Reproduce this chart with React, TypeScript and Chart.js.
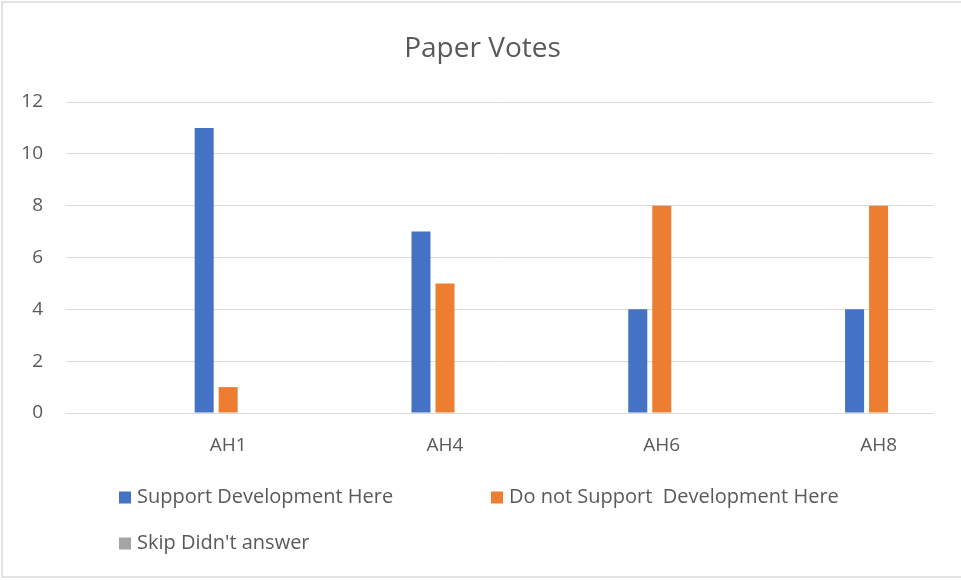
import { useEffect, useRef } from 'react';
import { Chart, registerables } from 'chart.js';

Chart.register(...registerables);

const categories = ['AH1', 'AH4', 'AH6', 'AH8'];
const supportValues = [11, 7, 4, 4];
const notSupportValues = [1, 5, 8, 8];
const skipValues = [0, 0, 0, 0];
const seriesLabels = ['Support Development Here', 'Do not Support  Development Here', "Skip Didn't answer"];
const seriesColors = ['#4472C4', '#ED7D31', '#A5A5A5'];
const yMin = 0;
const yMax = 12;
const yStep = 2;

const TEXT = '#595959';
const GRID = '#D9D9D9';
const FONT = '"Open Sans", "Noto Sans", sans-serif';

const framePlugin = {
  id: 'frame',
  beforeDraw(chart: any) {
    const ctx = chart.ctx;
    ctx.save();
    ctx.fillStyle = '#FFFFFF';
    ctx.fillRect(0, 0, chart.width, chart.height);
    ctx.strokeStyle = GRID;
    ctx.lineWidth = 1.5;
    ctx.strokeRect(2, 2, chart.width + 20, 575);
    ctx.restore();
  },
};

const legendSlots = [
  { x: 119, y: 497.5 },
  { x: 491, y: 497.5 },
  { x: 119, y: 543.5 },
];

const legendPlugin = {
  id: 'excelLegend',
  afterDraw(chart: any) {
    const ctx = chart.ctx;
    ctx.save();
    ctx.font = `20px ${FONT}`;
    ctx.textBaseline = 'middle';
    ctx.textAlign = 'left';
    chart.data.datasets.forEach((ds: any, i: number) => {
      const slot = legendSlots[i];
      if (!slot) return;
      ctx.fillStyle = ds.backgroundColor;
      ctx.fillRect(slot.x, slot.y - 6, 12, 12);
      ctx.fillStyle = TEXT;
      ctx.fillText(ds.label, slot.x + 18, slot.y);
    });
    ctx.restore();
  },
};

export default function App() {
  const canvasRef = useRef<HTMLCanvasElement | null>(null);

  useEffect(() => {
    document.body.style.margin = '0';
    const canvas = canvasRef.current;
    if (!canvas) return;
    const toPoints = (vals: number[]) => vals.map((v, i) => ({ x: i, y: v }));
    const seriesValues = [supportValues, notSupportValues, skipValues];
    const chart = new Chart(canvas, {
      type: 'bar',
      data: {
        datasets: seriesValues.map((vals, i) => ({
          label: seriesLabels[i],
          data: toPoints(vals),
          backgroundColor: seriesColors[i],
          borderWidth: 0,
          categoryPercentage: 0.332,
          barPercentage: 0.792,
        })),
      },
      options: {
        animation: false,
        responsive: false,
        devicePixelRatio: 1,
        layout: { padding: { left: 4, right: 0, top: 0, bottom: 117 } },
        plugins: {
          legend: { display: false },
          tooltip: { enabled: false },
          title: {
            display: true,
            text: 'Paper Votes',
            color: TEXT,
            font: { family: FONT, size: 28, weight: 'normal' },
            padding: { top: 32.2, bottom: 36.2 },
          },
        },
        scales: {
          x: {
            type: 'linear',
            offset: false,
            min: -0.748,
            max: 3.251,
            grid: { display: false, drawTicks: false, offset: false },
            border: { display: false },
            afterBuildTicks: (s: any) => {
              s.ticks = categories.map((_, i) => ({ value: i }));
            },
            afterFit: (s: any) => {
              s.height = 50;
            },
            ticks: {
              autoSkip: false,
              maxRotation: 0,
              padding: 21.5,
              color: TEXT,
              font: { family: FONT, size: 19 },
              callback: (v: any) => categories[v as number] ?? '',
            },
          },
          y: {
            position: 'left',
            min: yMin,
            max: yMax,
            grid: { color: GRID, lineWidth: 1, drawTicks: false },
            border: { display: false },
            afterFit: (s: any) => {
              s.width = 62;
            },
            ticks: {
              stepSize: yStep,
              padding: 23,
              color: TEXT,
              font: { family: FONT, size: 19 },
            },
          },
          yRight: {
            position: 'right',
            min: yMin,
            max: yMax,
            display: true,
            grid: { display: false, drawTicks: false },
            border: { display: false },
            ticks: { display: false },
            afterFit: (s: any) => {
              s.width = 28;
            },
          },
        },
      },
      plugins: [framePlugin, legendPlugin],
    } as any);
    return () => chart.destroy();
  }, []);

  return (
    <div style={{ width: 961, height: 580, position: 'relative' }}>
      <canvas ref={canvasRef} width={961} height={580} style={{ display: 'block' }} />
    </div>
  );
}
